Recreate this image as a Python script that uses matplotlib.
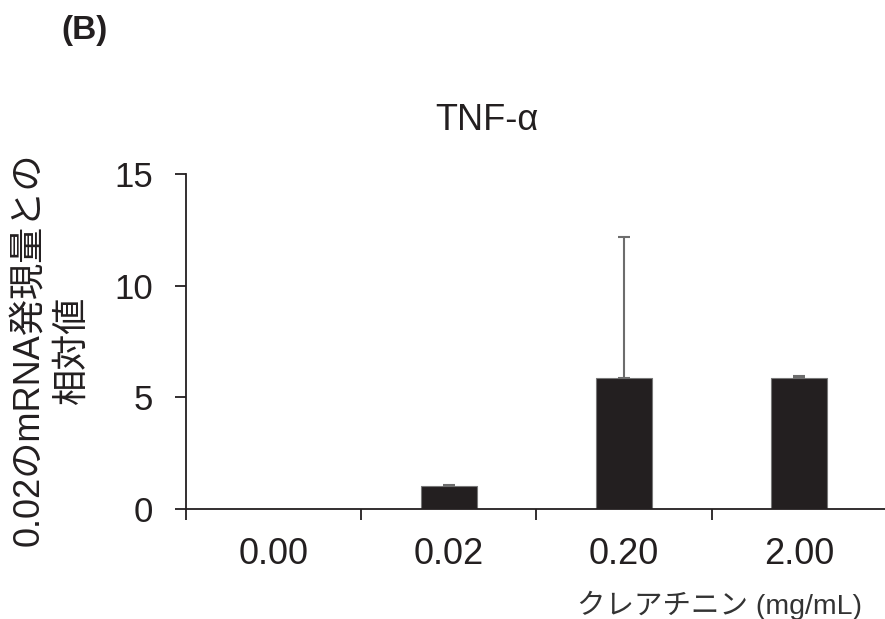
import numpy as np
import matplotlib
matplotlib.use("Agg")
import matplotlib.pyplot as plt

plt.rcParams['font.family'] = ['Liberation Sans', 'Noto Sans CJK JP', 'DejaVu Sans']

categories = ["0.00", "0.02", "0.20", "2.00"]
values = [0.0, 1.02, 5.87, 5.87]
errors = [0.0, 0.04, 6.3, 0.1]
yticks = [0, 5, 10, 15]

fig = plt.figure(figsize=(8.85, 6.19), dpi=100)
ax = fig.add_axes([0.2102, 0.1777, 0.7898, 0.5412])

x = np.arange(len(categories))
ax.bar(x, values, width=0.32, color="#231f20", edgecolor="#777777", linewidth=0.8, zorder=2)
ax.errorbar(x[1:], values[1:], yerr=[np.zeros(3), errors[1:]], fmt="none",
            ecolor="#6d6d6d", elinewidth=1.5, capsize=4, capthick=1.5, zorder=3)

ax.set_xlim(-0.5, 3.49)
ax.set_ylim(0, 15)
ax.set_yticks(yticks)
ax.set_xticks(x)
ax.set_xticklabels(categories)
ax.set_xticks(np.arange(-0.5, 3.0, 1.0), minor=True)

for s in ["top", "right"]:
    ax.spines[s].set_visible(False)
for s in ["left", "bottom"]:
    ax.spines[s].set_color("#231f20")
    ax.spines[s].set_linewidth(1.3)

ax.tick_params(axis="y", direction="out", length=8, width=1.3, labelsize=25, pad=16,
               color="#231f20", labelcolor="#231f20")
ax.tick_params(axis="x", which="major", length=0, labelsize=26, pad=20, labelcolor="#231f20")
ax.tick_params(axis="x", which="minor", direction="out", length=8, width=1.3, color="#231f20")

fig.text(0.057, 0.435, "0.02のmRNA発現量との\n相対値", fontsize=26, rotation=90,
         ha="center", va="center", multialignment="center", linespacing=1.3, color="#231f20")

fig.text(0.55, 0.806, "TNF-α", fontsize=26, ha="center", va="center", color="#231f20")
fig.text(0.095, 0.95, "(B)", fontsize=24, fontweight="bold", ha="center", va="center", color="#231f20")
fig.text(0.813, 0.022, "クレアチニン (mg/mL)", fontsize=20.5, ha="center", va="center", color="#333333")

fig.savefig("out.png", dpi=100)
